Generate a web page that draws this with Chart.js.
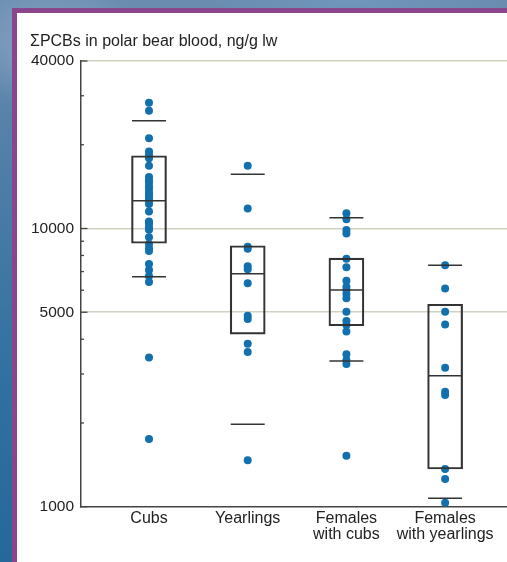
<!DOCTYPE html>
<html><head><meta charset="utf-8">
<script src="https://cdn.jsdelivr.net/npm/chart.js@4/dist/chart.umd.min.js"></script>
<style>
html,body{margin:0;padding:0;width:507px;height:562px;overflow:hidden;}
body{position:relative;background:
 radial-gradient(ellipse 140px 90px at 10% 8%, rgba(170,190,215,0.55), transparent 70%),
 radial-gradient(ellipse 200px 60px at 70% 0%, rgba(120,160,200,0.5), transparent 70%),
 linear-gradient(180deg,#6a8db0 0%,#4a7ca6 35%,#2f709f 70%,#26689a 100%);}
#frame{position:absolute;left:12px;top:8px;width:620px;height:620px;border:5px solid #8a468c;background:#fff;box-sizing:border-box;}
#c{position:absolute;left:0;top:0;}
</style></head>
<body><div id="frame"></div><canvas id="c" width="507" height="562"></canvas>
<script>
const categories = [['Cubs'], ['Yearlings'], ['Females', 'with cubs'], ['Females', 'with yearlings']];
const titleText = 'ΣPCBs in polar bear blood, ng/g lw';

const cubs = [28300, 26500, 21100, 18900, 18400, 17900, 16800, 15300, 14900, 14600, 14200, 13900, 13500,
  13200, 12900, 12600, 12250, 11500, 10600, 10400, 10100, 9900, 9300, 8800, 8500, 8300, 7450, 7100, 6750, 6420, 3440, 1750];
const yearlings = [16800, 11800, 8600, 8450, 7320, 7130, 6350, 4860, 4730, 3850, 3600, 1470];
const femalesWithCubs = [11350, 10800, 9880, 9600, 7780, 7250, 6490, 6180, 6010, 5810, 5610, 5020, 4650, 4500, 4260, 3530, 3370, 3260, 1525];
const femalesWithYearlings = [7375, 6080, 5020, 4520, 3160, 2590, 2520, 1366, 1258, 1034];

const boxQ1 = [8850, 4170, 4470, 1366];
const boxQ3 = [18260, 8670, 7830, 5340];
const medians = [12590, 6880, 6010, 2957];
const whiskerLow = [6710, 1978, 3340, 1072];
const whiskerHigh = [24410, 15660, 10940, 7375];

const yTickValues = [1000, 2000, 3000, 4000, 5000, 6000, 7000, 8000, 9000, 10000, 20000, 30000, 40000];
const yLabelValues = [1000, 5000, 10000, 40000];
const gridValues = [5000, 10000, 40000];
const xPos = [1, 2, 3, 4];

Chart.defaults.font.family = "'Liberation Sans', Arial, sans-serif";

const groups = [cubs, yearlings, femalesWithCubs, femalesWithYearlings];
const pointData = [];
groups.forEach((g, i) => g.forEach(v => pointData.push({x: xPos[i], y: v})));

const lineColor = '#333';
const innerTicks = {
  id: 'innerTicks',
  afterDraw(chart) {
    const ys = chart.scales.y, ctx = chart.ctx, left = chart.chartArea.left;
    ctx.save();
    ctx.strokeStyle = '#444';
    ctx.lineWidth = 1.3;
    yTickValues.forEach(v => {
      const py = ys.getPixelForValue(v);
      const len = yLabelValues.includes(v) ? 6.5 : 3;
      ctx.beginPath(); ctx.moveTo(left, py); ctx.lineTo(left + len, py); ctx.stroke();
    });
    ctx.restore();
  }
};

new Chart(document.getElementById('c'), {
  type: 'scatter',
  data: {
    datasets: [
      {
        type: 'bar', order: 1, grouped: false,
        data: xPos.map((x, i) => ({x: x, y: [boxQ1[i], boxQ3[i]]})),
        backgroundColor: 'rgba(0,0,0,0)', borderColor: lineColor, borderWidth: 1.5,
        borderSkipped: false, barThickness: 35
      },
      {
        order: 1,
        data: xPos.map((x, i) => ({x: x, y: medians[i]})),
        pointStyle: 'line', pointRadius: 17, pointHoverRadius: 17, borderWidth: 1.5, borderColor: lineColor
      },
      {
        order: 1,
        data: xPos.map((x, i) => ({x: x, y: whiskerLow[i]})).concat(xPos.map((x, i) => ({x: x, y: whiskerHigh[i]}))),
        pointStyle: 'line', pointRadius: 17, pointHoverRadius: 17, borderWidth: 1.5, borderColor: lineColor
      },
      {
        order: 2,
        data: pointData,
        pointRadius: 4, pointHoverRadius: 4, borderWidth: 0,
        backgroundColor: '#1170ad', borderColor: '#1170ad'
      }
    ]
  },
  options: {
    responsive: false, animation: false, devicePixelRatio: 1,
    layout: {autoPadding: false, padding: {left: 30, top: 0, right: 0, bottom: 0}},
    plugins: {
      legend: {display: false}, tooltip: {enabled: false},
      title: {
        display: true, text: titleText, align: 'start', color: '#222',
        font: {size: 16, weight: 'normal', lineHeight: 1.2},
        padding: {top: 32, bottom: 9.8}
      }
    },
    scales: {
      x: {
        type: 'linear', min: 0.311, max: 4.627, offset: false,
        afterBuildTicks: s => { s.ticks = xPos.map(v => ({value: v})); },
        afterFit: s => { s.height = 55.3; s.paddingRight = 0; s.paddingLeft = 0; },
        ticks: {
          autoSkip: false, maxRotation: 0, padding: 4, color: '#222',
          font: {size: 16, lineHeight: 1.0},
          callback: v => categories[Math.round(v) - 1]
        },
        grid: {display: false, drawTicks: false, offset: false},
        border: {display: true, color: '#444', width: 1.5}
      },
      y: {
        type: 'logarithmic', min: 1000, max: 40000,
        afterBuildTicks: s => { s.ticks = yTickValues.map(v => ({value: v})); },
        afterFit: s => { s.width = 51; },
        ticks: {
          autoSkip: false, padding: 7, color: '#222', font: {size: 15.5},
          callback: v => yLabelValues.includes(v) ? String(v) : ''
        },
        grid: {
          drawTicks: false, lineWidth: 1.5,
          color: c => (c.tick && gridValues.includes(c.tick.value)) ? '#d3d1c2' : 'rgba(0,0,0,0)'
        },
        border: {color: '#444', width: 1.5}
      }
    }
  },
  plugins: [innerTicks]
});
</script></body></html>
